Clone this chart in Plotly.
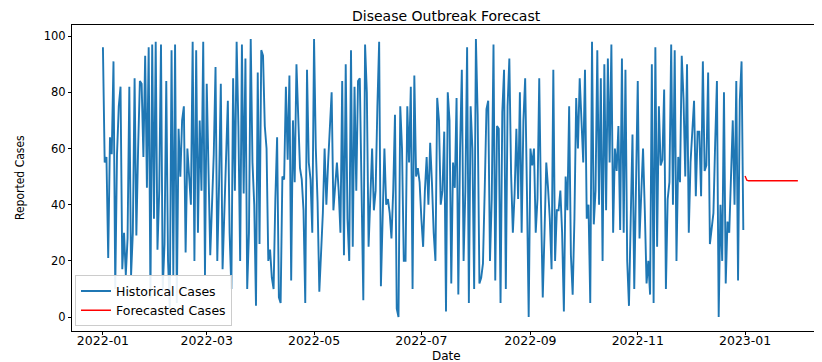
import pandas as pd
import plotly.graph_objects as go

historical_cases = [
    # Jan
    96, 55, 57, 21, 64, 58, 91, 10, 58, 75, 82, 17, 30, 15, 28, 82, 15, 30, 85, 29,
    60, 84, 83, 57, 93, 46, 96, 7, 97, 35, 98,
    # Feb
    24, 45, 97, 10, 26, 84, 20, 3, 95, 15, 97, 5, 67, 50, 70, 75, 23, 60, 48, 40,
    98, 20, 95, 30, 70, 45, 98, 15,
    # Mar
    83, 47, 22, 40, 58, 89, 20, 47, 83, 17, 40, 58, 77, 30, 10, 85, 45, 98, 68, 20,
    97, 44, 92, 10, 30, 99, 55, 40, 4, 87, 26,
    # Apr
    95, 93, 68, 60, 20, 24, 14, 10, 42, 64, 7, 5, 50, 49, 82, 56, 86, 13, 70, 48,
    90, 68, 53, 49, 38, 5, 88, 55, 49, 30,
    # May
    99, 60, 41, 9, 22, 37, 60, 40, 55, 68, 80, 38, 48, 55, 45, 30, 84, 22, 90, 35,
    20, 95, 25, 82, 45, 84, 85, 45, 6, 97, 80,
    # Jun
    25, 40, 60, 38, 45, 75, 98, 11, 37, 60, 40, 42, 37, 28, 45, 72, 3, 0, 75, 60,
    20, 20, 75, 55, 82, 10, 86, 50, 53, 48,
    # Jul
    35, 25, 45, 57, 40, 62, 48, 30, 20, 78, 70, 40, 45, 66, 2, 80, 70, 12, 55, 46,
    78, 8, 60, 88, 20, 45, 96, 5, 75, 60, 10,
    # Aug
    99, 72, 12, 14, 19, 45, 74, 77, 20, 42, 97, 13, 68, 67, 5, 73, 88, 10, 75, 92,
    51, 30, 44, 67, 42, 80, 30, 70, 85, 45, 0,
    # Sep
    60, 54, 60, 30, 42, 85, 40, 7, 30, 55, 46, 35, 17, 88, 20, 38, 38, 45, 30, 2,
    50, 38, 75, 22, 8, 35, 78, 60, 85, 72,
    # Oct
    55, 88, 35, 40, 5, 98, 33, 45, 95, 40, 85, 20, 90, 38, 92, 55, 97, 30, 60, 52,
    68, 31, 92, 30, 88, 20, 4, 35, 65, 10, 55,
    # Nov
    84, 28, 44, 60, 38, 12, 20, 8, 90, 5, 96, 25, 75, 54, 56, 81, 10, 42, 48, 97,
    40, 95, 20, 57, 48, 93, 78, 50, 90, 30,
    # Dec
    55, 68, 77, 43, 66, 66, 43, 91, 52, 54, 87, 26, 32, 37, 62, 84, 0, 40, 20, 80,
    12, 34, 30, 50, 70, 40, 84, 13, 77, 91, 31,
]

forecast_cases = [
    50.2, 48.7, 48.5, 48.5, 48.5, 48.5, 48.5, 48.5, 48.5, 48.5,
    48.5, 48.5, 48.5, 48.5, 48.5, 48.5, 48.5, 48.5, 48.5, 48.5,
    48.5, 48.5, 48.5, 48.5, 48.5, 48.5, 48.5, 48.5, 48.5, 48.5, 48.5,
]

x_tick_values = ["2022-01-01", "2022-03-01", "2022-05-01", "2022-07-01",
                 "2022-09-01", "2022-11-01", "2023-01-01"]
x_tick_labels = ["2022-01", "2022-03", "2022-05", "2022-07",
                 "2022-09", "2022-11", "2023-01"]
y_tick_values = [0, 20, 40, 60, 80, 100]

hist_dates = pd.date_range("2022-01-01", periods=len(historical_cases), freq="D")
fc_dates = pd.date_range("2023-01-01", periods=len(forecast_cases), freq="D")

fig = go.Figure()
fig.add_trace(go.Scatter(x=hist_dates, y=historical_cases, mode="lines",
                         name="Historical Cases",
                         line=dict(color="#1f77b4", width=1.9)))
fig.add_trace(go.Scatter(x=fc_dates, y=forecast_cases, mode="lines",
                         name="Forecasted Cases",
                         line=dict(color="red", width=1.4)))

axis_common = dict(showgrid=False, zeroline=False, showline=True, linecolor="black",
                   linewidth=1, mirror=True, ticks="outside", ticklen=3,
                   tickcolor="black", automargin=False)

# page body has an 8px default margin, so the figure is 8px smaller on each side
fig.update_layout(
    width=814, height=354,
    margin=dict(l=64, r=2, t=17, b=31),
    paper_bgcolor="white", plot_bgcolor="white",
    font=dict(family="DejaVu Sans", color="black"),
    xaxis=dict(range=["2021-12-14 10:00", "2023-02-12 14:00"],
               tickvals=x_tick_values, ticktext=x_tick_labels,
               tickfont=dict(size=12.5, color="black"), ticklabelstandoff=-5,
               **axis_common),
    yaxis=dict(range=[-4.95, 103.95], tickvals=y_tick_values,
               tickfont=dict(size=11.5, color="black"),
               **axis_common),
    legend=dict(x=0.004, y=0.015, xanchor="left", yanchor="bottom",
                bgcolor="rgba(255,255,255,0.9)", bordercolor="#cccccc", borderwidth=1,
                font=dict(size=12.5), tracegroupgap=0),
    showlegend=True,
    annotations=[
        dict(text="Disease Outbreak Forecast", xref="paper", x=0.5, xanchor="center",
             yref="paper", y=1.0, yanchor="bottom", yshift=-1, showarrow=False,
             font=dict(size=14)),
        dict(text="Date", xref="paper", x=0.5, xanchor="center",
             yref="paper", y=0.0, yanchor="top", yshift=-16, showarrow=False,
             font=dict(size=12)),
        dict(text="Reported Cases", xref="paper", x=0.0, xanchor="center",
             xshift=-52, yref="paper", y=0.5, yanchor="middle", textangle=-90,
             showarrow=False,
             font=dict(size=12, family="DejaVu Sans Condensed, DejaVu Sans")),
    ],
)

fig.write_html("out.html")
